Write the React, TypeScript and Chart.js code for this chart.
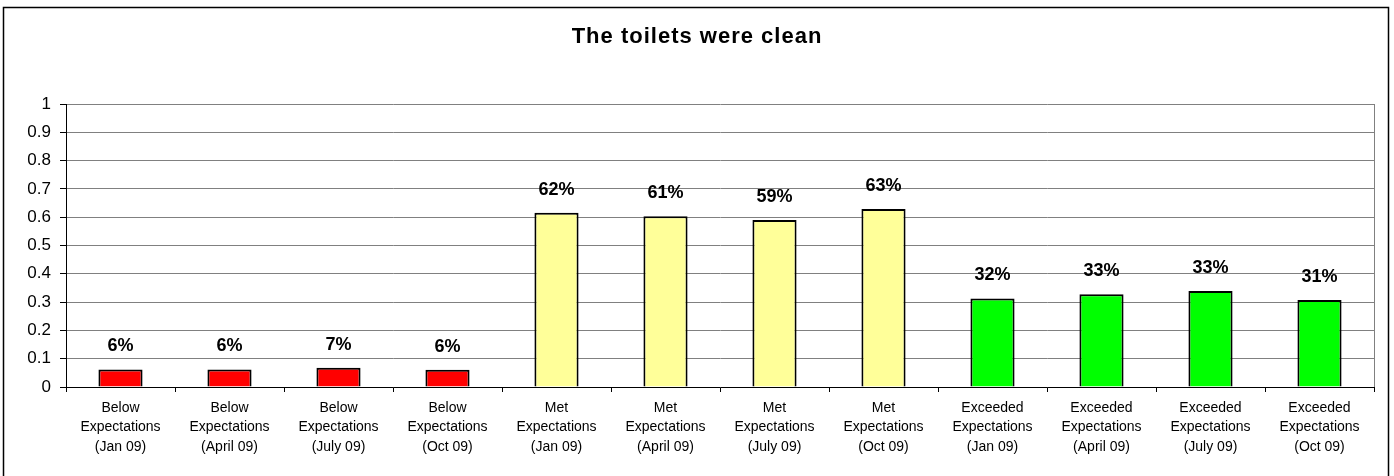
import React, { useEffect, useRef } from "react";
import { Chart, registerables } from "chart.js";

Chart.register(...registerables);

const categories: string[][] = [
  ["Below", "Expectations", "(Jan 09)"],
  ["Below", "Expectations", "(April 09)"],
  ["Below", "Expectations", "(July 09)"],
  ["Below", "Expectations", "(Oct 09)"],
  ["Met", "Expectations", "(Jan 09)"],
  ["Met", "Expectations", "(April 09)"],
  ["Met", "Expectations", "(July 09)"],
  ["Met", "Expectations", "(Oct 09)"],
  ["Exceeded", "Expectations", "(Jan 09)"],
  ["Exceeded", "Expectations", "(April 09)"],
  ["Exceeded", "Expectations", "(July 09)"],
  ["Exceeded", "Expectations", "(Oct 09)"],
];

const values: number[] = [
  0.062, 0.062, 0.068, 0.061,
  0.616, 0.603, 0.59, 0.629,
  0.313, 0.328, 0.339, 0.307,
];

const valueLabels: string[] = [
  "6%", "6%", "7%", "6%",
  "62%", "61%", "59%", "63%",
  "32%", "33%", "33%", "31%",
];

const barColors: string[] = [
  "#FF0000", "#FF0000", "#FF0000", "#FF0000",
  "#FFFF99", "#FFFF99", "#FFFF99", "#FFFF99",
  "#00FF00", "#00FF00", "#00FF00", "#00FF00",
];

const titleText = "The toilets were clean";
const FONT = "'Liberation Sans', Arial, Helvetica, sans-serif";

export default function App() {
  const canvasRef = useRef<HTMLCanvasElement | null>(null);

  useEffect(() => {
    const canvas = canvasRef.current;
    if (!canvas) return;

    const decorPlugin = {
      id: "decor",
      beforeDraw(chart: any) {
        const ctx = chart.ctx;
        ctx.save();
        ctx.fillStyle = "#ffffff";
        ctx.fillRect(0, 0, chart.width, chart.height);
        ctx.restore();
      },
      afterDraw(chart: any) {
        const ctx = chart.ctx;
        const area = chart.chartArea;
        ctx.save();
        // plot right border
        ctx.strokeStyle = "#808080";
        ctx.lineWidth = 1;
        ctx.beginPath();
        ctx.moveTo(Math.round(area.right) + 0.5, area.top);
        ctx.lineTo(Math.round(area.right) + 0.5, area.bottom);
        ctx.stroke();
        // outer border
        ctx.strokeStyle = "#000000";
        ctx.lineWidth = 1.5;
        ctx.strokeRect(3.5, 7.5, 1385, 490);
        // title
        ctx.fillStyle = "#000000";
        ctx.font = `bold 22px ${FONT}`;
        try {
          (ctx as any).letterSpacing = "1px";
        } catch (e) {}
        ctx.textAlign = "center";
        ctx.textBaseline = "middle";
        ctx.fillText(titleText, chart.width / 2, 37);
        ctx.restore();
      },
      afterDatasetsDraw(chart: any) {
        const ctx = chart.ctx;
        const meta = chart.getDatasetMeta(0);
        ctx.save();
        ctx.fillStyle = "#000000";
        ctx.font = `bold 18px ${FONT}`;
        ctx.textAlign = "center";
        ctx.textBaseline = "middle";
        meta.data.forEach((bar: any, i: number) => {
          ctx.fillText(valueLabels[i], bar.x, bar.y - 23);
        });
        ctx.restore();
      },
    };

    const chart = new Chart(canvas, {
      type: "bar",
      data: {
        labels: categories,
        datasets: [
          {
            data: values,
            backgroundColor: barColors,
            borderColor: "#000000",
            borderWidth: 2,
            categoryPercentage: 1,
            barPercentage: 0.405,
          },
        ],
      },
      options: {
        animation: false,
        responsive: false,
        maintainAspectRatio: false,
        layout: { padding: { top: 104, left: 0, right: 20, bottom: 0 } },
        plugins: {
          legend: { display: false },
          title: { display: false },
          tooltip: { enabled: false },
        },
        scales: {
          x: {
            offset: true,
            grid: {
              display: true,
              drawOnChartArea: false,
              drawTicks: true,
              tickLength: 5,
              color: "#000000",
              offset: true,
            },
            border: { display: true, color: "#000000", width: 1 },
            ticks: {
              color: "#000000",
              font: { family: FONT, size: 14, lineHeight: 1.4 },
              padding: 6,
              maxRotation: 0,
              autoSkip: false,
            },
            afterFit(scale: any) {
              scale.height = 89;
            },
          },
          y: {
            min: 0,
            max: 1,
            ticks: {
              stepSize: 0.1,
              color: "#000000",
              font: { family: FONT, size: 17 },
              padding: 9,
              callback: (v: any) => `${Math.round(Number(v) * 10) / 10}`,
            },
            grid: {
              color: "#808080",
              lineWidth: 1,
              tickLength: 6,
              tickColor: "#000000",
            },
            border: { display: true, color: "#000000", width: 1 },
            afterFit(scale: any) {
              scale.width = 66;
            },
          },
        },
      },
      plugins: [decorPlugin],
    });

    return () => chart.destroy();
  }, []);

  return (
    <div style={{ position: "absolute", left: 0, top: 0, width: 1394, height: 476 }}>
      <canvas ref={canvasRef} width={1394} height={476} style={{ width: 1394, height: 476, display: "block" }} />
    </div>
  );
}
